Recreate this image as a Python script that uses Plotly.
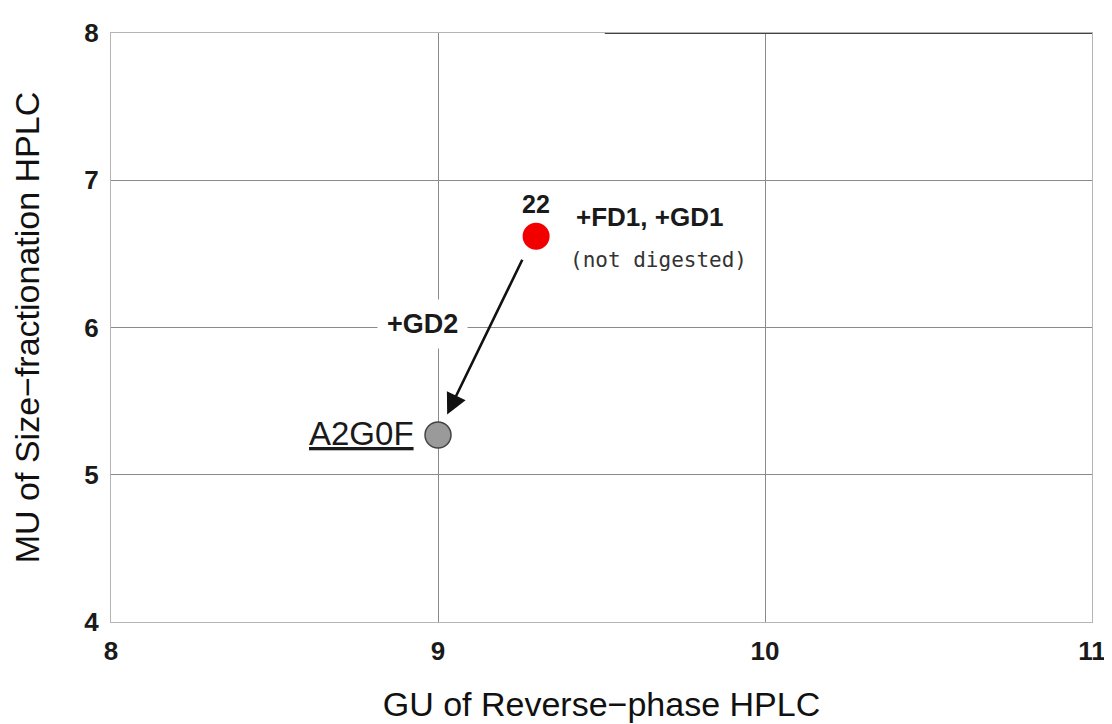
import plotly.graph_objects as go

# Data
gu_values = [9.3, 9.0]          # GU of Reverse-phase HPLC
mu_values = [6.62, 5.27]        # MU of Size-fractionation HPLC
point_names = ["22", "A2G0F"]
point_colors = ["#f20000", "#9a9a9a"]
x_ticks = [8, 9, 10, 11]
y_ticks = [4, 5, 6, 7, 8]

fig = go.Figure()

fig.add_trace(go.Scatter(
    x=gu_values, y=mu_values, mode="markers",
    marker=dict(size=[27, 26], color=point_colors, opacity=1,
                line=dict(color=["#f20000", "#444444"], width=[0, 1.5])),
    showlegend=False, hoverinfo="skip",
))

gridc = "#8a8a8a"
tickf = dict(family="Liberation Sans", size=26, color="#1a1a1a", weight="bold")
titlef = dict(family="Liberation Sans", size=34, color="#111111")
fig.update_xaxes(range=[8, 11], tickvals=x_ticks, showgrid=True, gridcolor=gridc, gridwidth=1,
                 zeroline=False, showline=True, linecolor="#b5b5b5", linewidth=1, mirror=True,
                 ticks="", automargin=False, tickfont=tickf, ticklabelstandoff=6,
                 title=dict(text="GU of Reverse\u2212phase HPLC", standoff=26, font=titlef))
fig.update_yaxes(range=[4, 8], tickvals=y_ticks, showgrid=True, gridcolor=gridc, gridwidth=1,
                 zeroline=False, showline=True, linecolor="#b5b5b5", linewidth=1, mirror=True,
                 ticks="", automargin=False, tickfont=tickf, ticklabelstandoff=6,
                 title=dict(text="MU of Size\u2212fractionation HPLC", standoff=34, font=titlef))

# darker top frame segment (scan artifact)
fig.add_shape(type="line", xref="x", yref="y", x0=9.51, x1=11, y0=8, y1=8,
              line=dict(color="#444444", width=2))

# arrow from 22 to A2G0F
fig.add_annotation(x=gu_values[1] + 0.028, y=mu_values[1] + 0.14,
                   ax=gu_values[0] - 0.04, ay=mu_values[0] - 0.15,
                   xref="x", yref="y", axref="x", ayref="y",
                   showarrow=True, arrowhead=2, arrowsize=1.6, arrowwidth=2.6,
                   arrowcolor="#111", text="")

fig.add_annotation(x=gu_values[0], y=mu_values[0], text="22", showarrow=False,
                   yshift=32, font=dict(family="Liberation Sans", size=25, color="#1a1a1a", weight="bold"))
fig.add_annotation(x=gu_values[0], y=mu_values[0], text="+FD1, +GD1", showarrow=False,
                   xanchor="left", xshift=38, yshift=19,
                   font=dict(family="Liberation Sans", size=26, color="#1a1a1a", weight="bold"))
fig.add_annotation(x=gu_values[0], y=mu_values[0], text="(not digested)", showarrow=False,
                   xanchor="left", xshift=32, yshift=-24,
                   font=dict(family="DejaVu Sans Mono", size=21, color="#333"))
fig.add_annotation(x=8.954, y=6.027, text="+GD2", showarrow=False,
                   bgcolor="white", borderpad=9,
                   font=dict(family="Liberation Sans", size=27, color="#1a1a1a", weight="bold"))
fig.add_annotation(x=gu_values[1], y=mu_values[1], text="A2G0F", showarrow=False,
                   xanchor="right", xshift=-22, yshift=1,
                   font=dict(family="Liberation Sans", size=33, color="#1a1a1a", lineposition="under"))

# the page body adds an 8px offset, so the figure is sized to fill the rest of the window
fig.update_layout(width=1104, height=716, plot_bgcolor="white", paper_bgcolor="white",
                  margin=dict(l=103, r=20, t=25, b=102), showlegend=False)

fig.write_html("out.html")
